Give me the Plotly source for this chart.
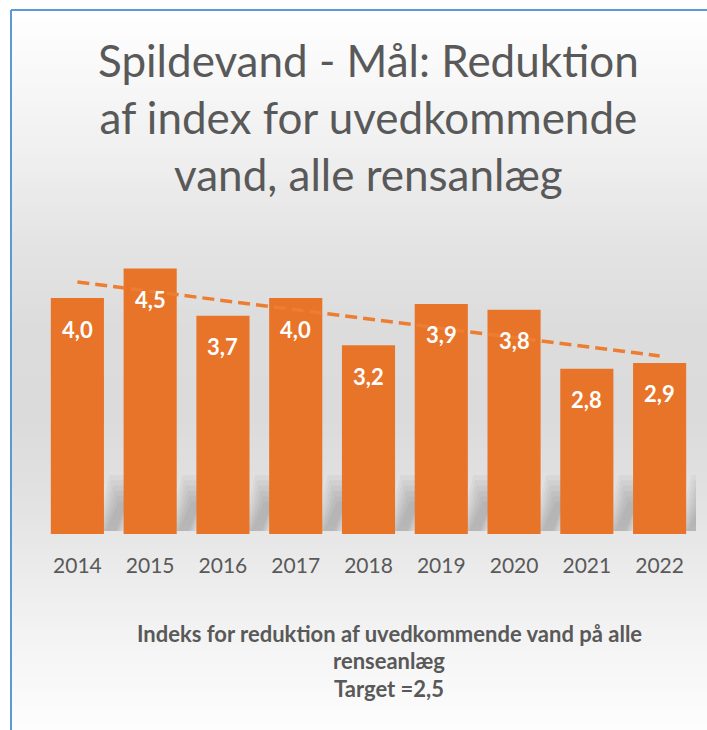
import numpy as np
import plotly.graph_objects as go

# ---- data ----
years = ["2014", "2015", "2016", "2017", "2018", "2019", "2020", "2021", "2022"]
values = [4.0, 4.5, 3.7, 4.0, 3.2, 3.9, 3.8, 2.8, 2.9]
title_lines = ["Spildevand - Mål: Reduktion", "af index for uvedkommende", "vand, alle rensanlæg"]
footer_lines = ["Indeks for reduktion af uvedkommende vand på alle", "renseanlæg", "Target =2,5"]

# ---- layout geometry (pixels) ----
W, H = 707, 730
PL, PR, PT, PB = 41, 696, 239, 534  # plot area edges
FONT = "Lato"
GREY = "#595959"
ORANGE = "#E8742A"


def px_x(px):
    return (px - PL) / (PR - PL)


def px_y(py):
    return (PB - py) / (PB - PT)


# linear trendline derived from the data
idx = np.arange(len(values))
slope, intercept = np.polyfit(idx, values, 1)
trend = slope * idx + intercept

fig = go.Figure()
fig.add_trace(go.Bar(
    x=years, y=values,
    marker=dict(color=ORANGE, line=dict(width=0)),
    hoverinfo="skip", showlegend=False,
))
fig.add_trace(go.Scatter(
    x=years, y=trend, mode="lines",
    line=dict(color="#ED7D31", width=3.5, dash="12px,6px"),
    hoverinfo="skip", showlegend=False,
))

annotations = []
for i, v in enumerate(values):
    annotations.append(dict(
        x=i, y=v, xref="x", yref="y", yanchor="middle", yshift=-31,
        text=f"<b>{v:.1f}</b>".replace(".", ","), showarrow=False,
        font=dict(family=FONT, size=22, color="white"),
    ))

annotations.append(dict(
    x=px_x(368), y=px_y(117), xref="paper", yref="paper",
    xanchor="center", yanchor="middle", showarrow=False,
    text="<br>".join(title_lines), align="center",
    font=dict(family=FONT, size=44, color=GREY),
))
for line, ypx in zip(footer_lines, [633, 660, 688]):
    annotations.append(dict(
        x=px_x(389), y=px_y(ypx), xref="paper", yref="paper",
        xanchor="center", yanchor="middle", showarrow=False,
        text=f"<b>{line}</b>", align="center",
        font=dict(family=FONT, size=22, color=GREY),
    ))

# background gradient as thin horizontal bands
stops = [(10, 255), (150, 240), (250, 227), (330, 220), (420, 219),
         (500, 226), (560, 234), (650, 245), (730, 253)]
sy = [s[0] for s in stops]
sc = [s[1] for s in stops]
shapes = []
step = 6
for y0 in range(10, 730, step):
    y1 = min(y0 + step, 730)
    c = int(round(np.interp((y0 + y1) / 2, sy, sc)))
    shapes.append(dict(
        type="rect", xref="paper", yref="paper", layer="below",
        x0=px_x(12), x1=px_x(W), y0=px_y(y1 + 0.5), y1=px_y(y0),
        fillcolor=f"rgb({c},{c},{c})", line=dict(width=0),
    ))

# soft skewed shadows behind the foot of every bar (stacked translucent layers)
for i in range(len(years)):
    for k in range(6):
        d = 0.025 * k
        x_bl, x_br = i + 0.26 + d, i + 0.66 - d
        x_tl, x_tr = i + 0.44 + d, i + 0.82 - d
        y_top = 1.0 - 0.09 * k
        shapes.append(dict(
            type="path", xref="x", yref="y", layer="below",
            path=f"M {x_bl},0.05 L {x_br},0.05 L {x_tr},{y_top} L {x_tl},{y_top} Z",
            fillcolor="rgba(0,0,0,0.036)", line=dict(width=0),
        ))

# blue frame (top and left)
shapes.append(dict(type="line", xref="paper", yref="paper", layer="above",
                   x0=px_x(11), x1=px_x(W), y0=px_y(10), y1=px_y(10),
                   line=dict(color="#5B9BD5", width=2)))
shapes.append(dict(type="line", xref="paper", yref="paper", layer="above",
                   x0=px_x(11), x1=px_x(11), y0=px_y(10), y1=px_y(H),
                   line=dict(color="#5B9BD5", width=2)))

fig.update_layout(
    width=W, height=H,
    margin=dict(l=PL, r=W - PR, t=PT, b=H - PB, pad=0),
    paper_bgcolor="white", plot_bgcolor="rgba(0,0,0,0)",
    bargap=0.27, showlegend=False,
    annotations=annotations, shapes=shapes,
    separators=", ",
    xaxis=dict(type="category", range=[-0.5, len(years) - 0.5], autorange=False,
               showgrid=False, zeroline=False, showline=False,
               ticks="", tickfont=dict(family=FONT, size=21, color=GREY),
               ticklabelstandoff=17, fixedrange=True),
    yaxis=dict(range=[0, 5], autorange=False, showgrid=False, zeroline=False,
               showline=False, showticklabels=False, ticks="", fixedrange=True),
)

css = ("html,body{margin:0;padding:0;overflow:hidden;scrollbar-width:none}"
       "::-webkit-scrollbar{display:none;width:0;height:0}")
fig.write_html(
    "out.html",
    config={"displayModeBar": False},
    post_script="var s=document.createElement('style');s.textContent='" + css + "';"
                "document.head.appendChild(s);",
)
